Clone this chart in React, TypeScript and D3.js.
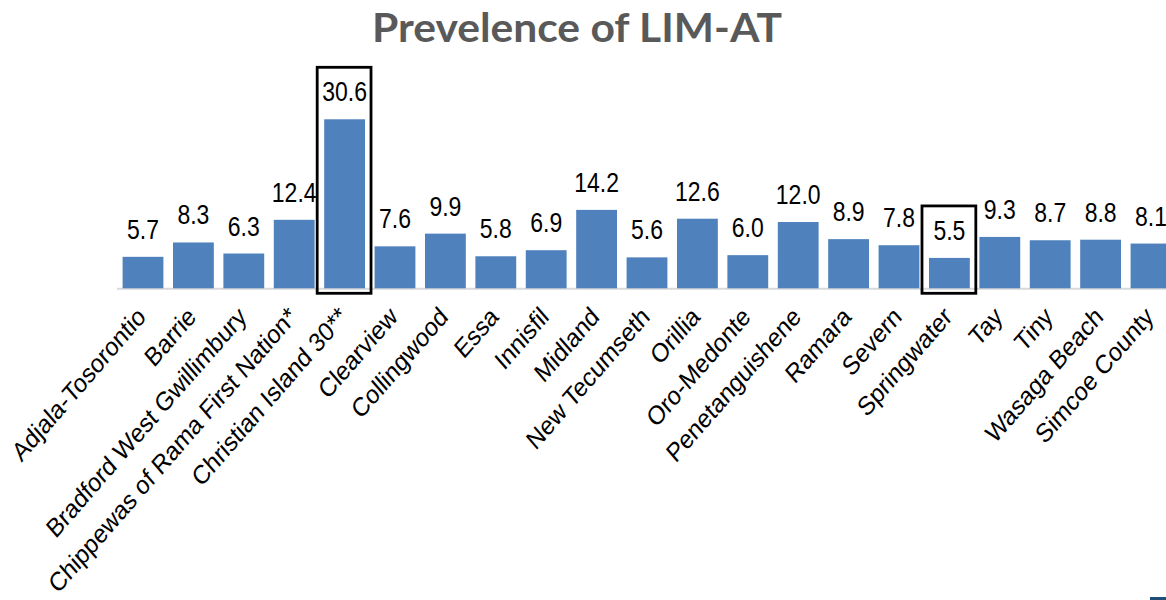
import React from "react";
import * as d3 from "d3";

const categories = [
  "Adjala-Tosorontio",
  "Barrie",
  "Bradford West Gwillimbury",
  "Chippewas of Rama First Nation*",
  "Christian Island 30**",
  "Clearview",
  "Collingwood",
  "Essa",
  "Innisfil",
  "Midland",
  "New Tecumseth",
  "Orillia",
  "Oro-Medonte",
  "Penetanguishene",
  "Ramara",
  "Severn",
  "Springwater",
  "Tay",
  "Tiny",
  "Wasaga Beach",
  "Simcoe County",
];
const values = [5.7, 8.3, 6.3, 12.4, 30.6, 7.6, 9.9, 5.8, 6.9, 14.2, 5.6, 12.6, 6.0, 12.0, 8.9, 7.8, 5.5, 9.3, 8.7, 8.8, 8.1];
const highlighted = ["Christian Island 30**", "Springwater"];
const title = "Prevelence of LIM-AT";

const W = 1166;
const H = 600;

export default function App() {
  const x = d3
    .scaleBand<string>()
    .domain(categories)
    .range([117.8, 1176.2])
    .paddingInner(0.19)
    .paddingOuter(0.095);
  const y = d3.scaleLinear().domain([0, 35]).range([288.3, 288.3 - 35 * 5.523]);
  const bw = x.bandwidth();
  const base = y(0);
  const sy = 1.15;

  return (
    <svg
      width={W}
      height={H}
      style={{ position: "absolute", left: 0, top: 0, background: "#fff" }}
      fontFamily="Arial, 'Liberation Sans', sans-serif"
    >
      <rect x={0} y={0} width={W} height={H} fill="#fff" />
      <text
        transform={`translate(577,41.7) scale(1,${sy})`}
        textAnchor="middle"
        fontFamily="Lato, 'Open Sans', sans-serif"
        fontWeight="bold"
        fontSize={35}
        fill="#595959"
        textLength={410}
        lengthAdjust="spacingAndGlyphs"
      >
        {title}
      </text>

      <line x1={117} x2={W} y1={base + 0.5} y2={base + 0.5} stroke="#D9D9D9" strokeWidth={2} />

      {categories.map((c, i) => {
        const v = values[i];
        const bx = x(c)!;
        const cx = bx + bw / 2;
        return (
          <g key={c}>
            <rect x={bx} y={y(v)} width={bw} height={base - y(v)} fill="#4F81BD" />
            <text
              transform={`translate(${cx},${y(v) - 18}) scale(1,1.2)`}
              textAnchor="middle"
              fontSize={23}
              fill="#000"
            >
              {v.toFixed(1)}
            </text>
            <text
              transform={`translate(${cx + 4},${base + 30}) scale(1,${sy}) rotate(-45)`}
              textAnchor="end"
              fontSize={23}
              fill="#000"
            >
              {c}
            </text>
          </g>
        );
      })}

      {highlighted.map((c) => {
        const i = categories.indexOf(c);
        const bx = x(c)!;
        const top = y(values[i]) - 52;
        return (
          <rect
            key={"box-" + c}
            x={bx - 7}
            y={top}
            width={bw + 13}
            height={base + 5 - top}
            fill="none"
            stroke="#000"
            strokeWidth={2.8}
          />
        );
      })}

      <rect x={1150} y={597} width={16} height={3} fill="#1F4E79" />
    </svg>
  );
}
